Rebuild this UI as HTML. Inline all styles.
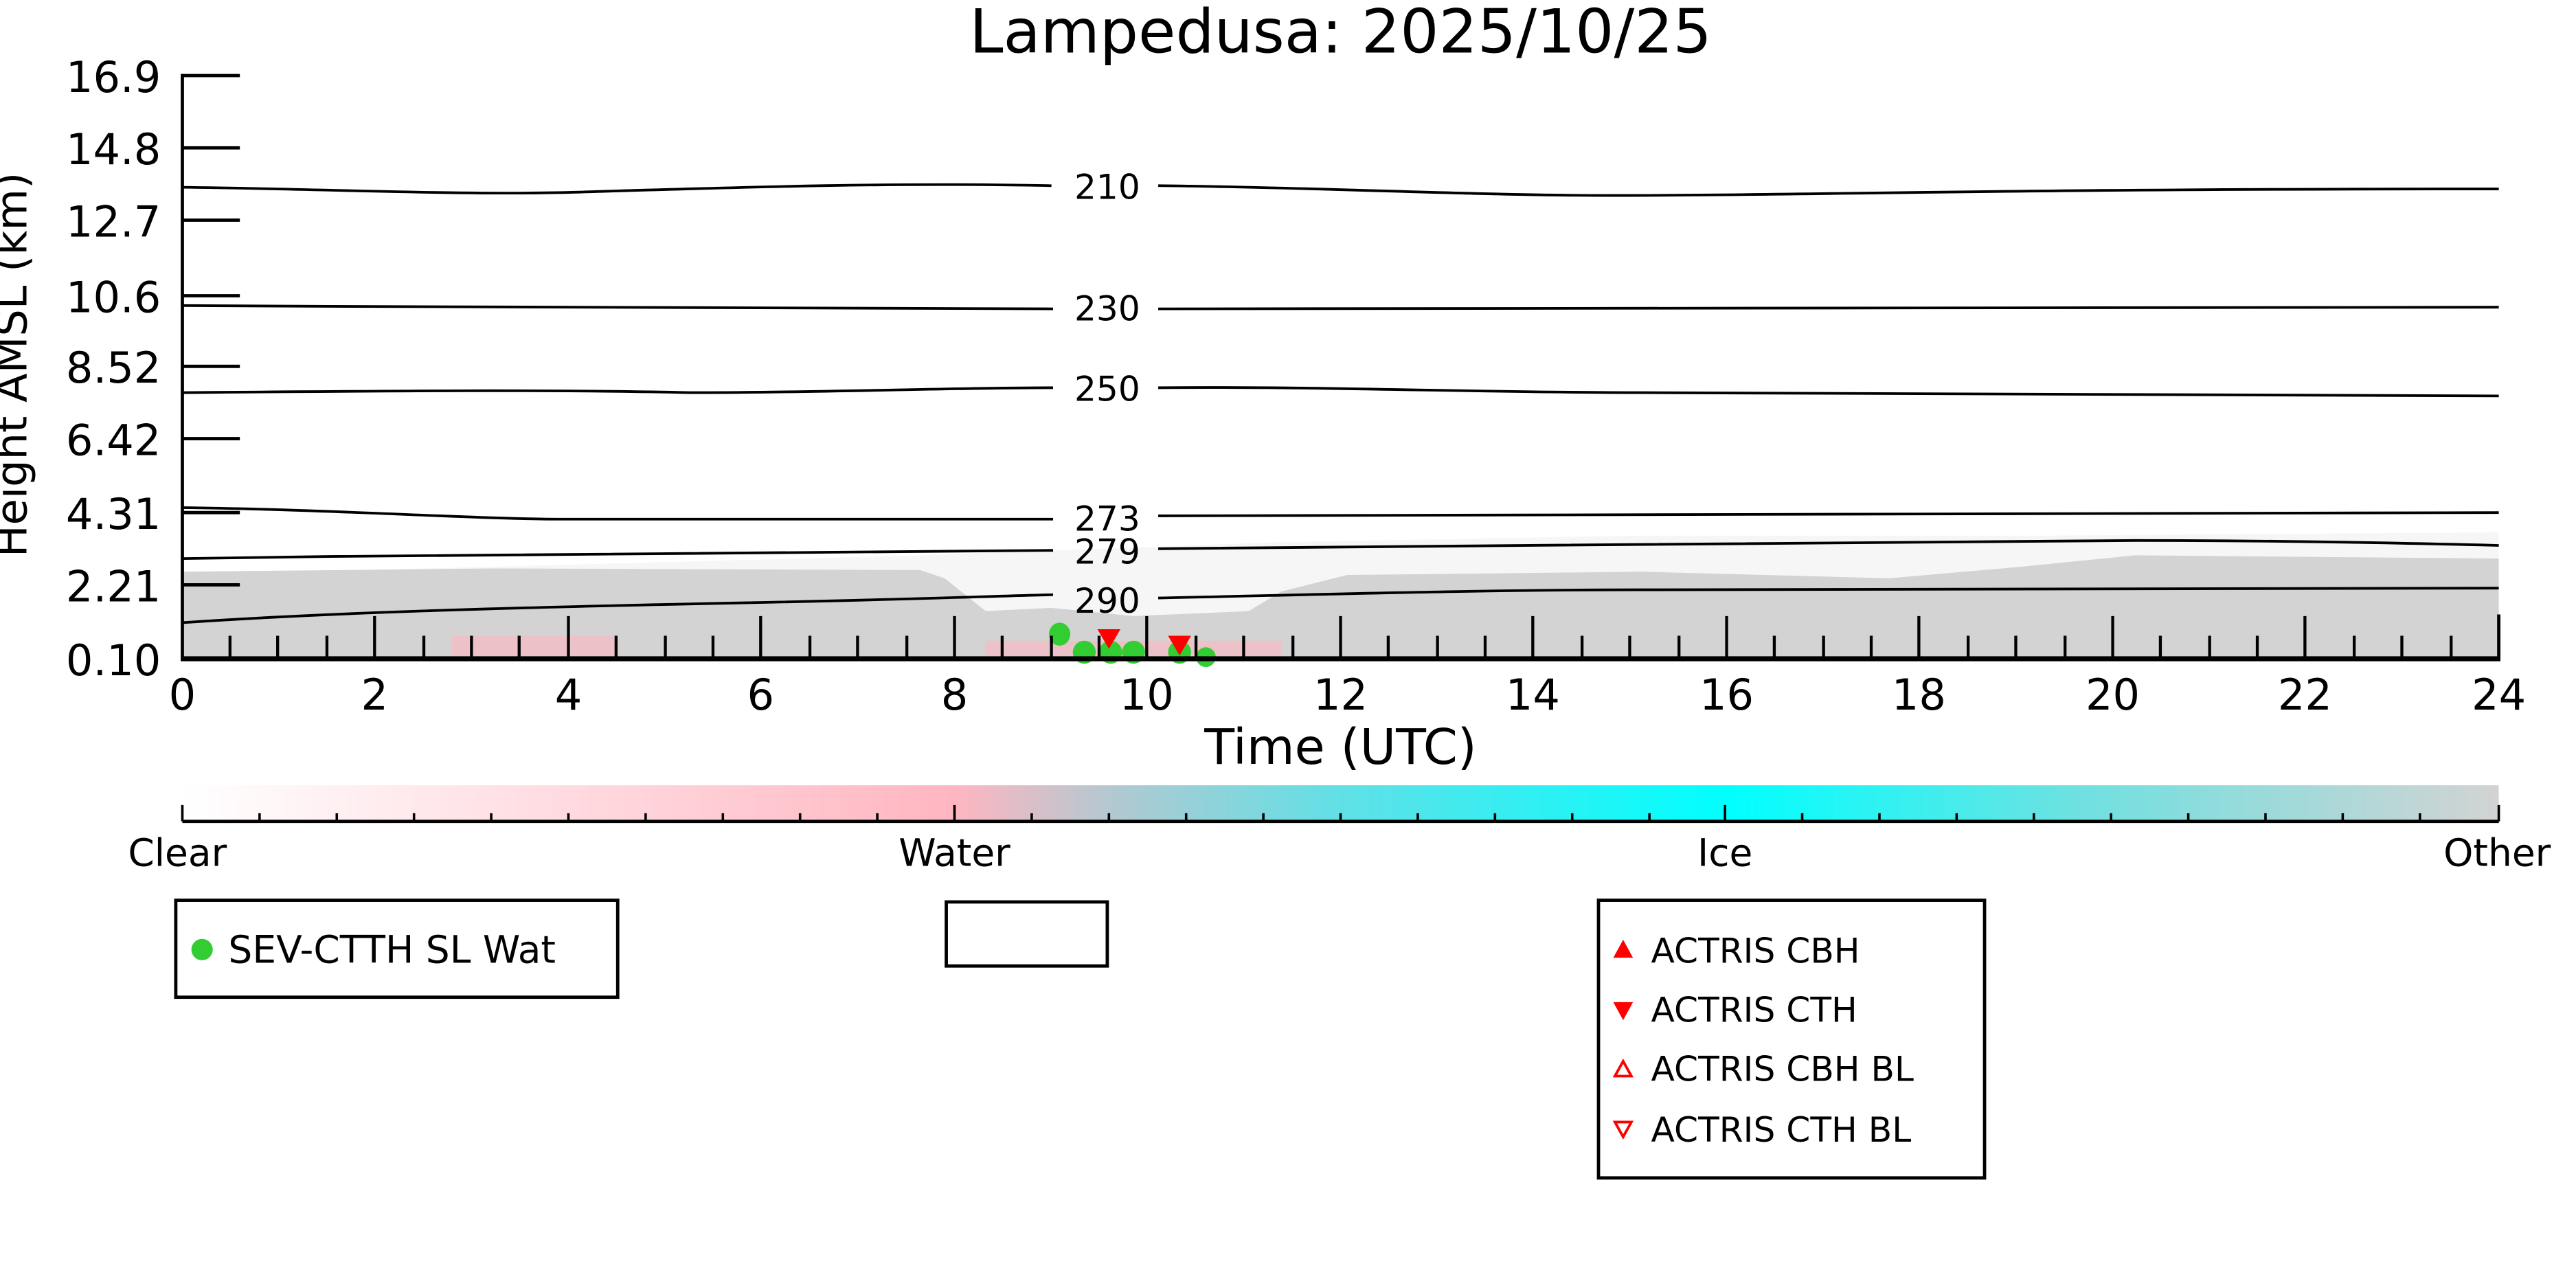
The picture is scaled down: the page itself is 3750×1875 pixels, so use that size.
<!DOCTYPE html>
<html><head><meta charset="utf-8"><style>html,body{margin:0;padding:0;background:#fff}svg{display:block}</style></head>
<body>
<svg width="3750" height="1875" viewBox="0 0 1568 784" xmlns="http://www.w3.org/2000/svg" font-family="DejaVu Sans, Liberation Sans, sans-serif">
<defs>
<linearGradient id="cb" x1="0" x2="1">
<stop offset="0" stop-color="#ffffff"/>
<stop offset="0.333" stop-color="#ffb6c1"/>
<stop offset="0.4" stop-color="#b4c8d0"/>
<stop offset="0.5" stop-color="#60e0e6"/>
<stop offset="0.667" stop-color="#00ffff"/>
<stop offset="0.82" stop-color="#70e0e0"/>
<stop offset="1" stop-color="#d3d3d3"/>
</linearGradient>
</defs>
<text x="816" y="32" font-size="37" text-anchor="middle">Lampedusa: 2025/10/25</text>
<path d="M111,350 L560,338 L780,330 L1000,326 L1250,326 L1521,324 L1521,401 L111,401 Z" fill="#d3d3d3" opacity="0.2"/>
<path d="M111,348 L300,346 L560,347 L575,352 L600,372 L640,370 L690,375 L760,372 L780,360 L820,350 L1000,348 L1150,352 L1230,345 L1300,338 L1521,340 L1521,401 L111,401 Z" fill="#d3d3d3"/>
<g fill="#ffb6c1" opacity="0.6">
<rect x="275" y="387" width="100" height="12"/>
<rect x="600" y="390" width="180" height="9"/>
</g>
<g fill="none" stroke="#000" stroke-width="1.6">
<path d="M111,114 C200,115 280,119 350,117 C450,114 540,111 640,113"/>
<path d="M705,113 C800,114 900,119 980,119 C1100,119 1200,115 1521,115"/>
<path d="M111,186 C300,187 500,188 641,188"/>
<path d="M705,188 C900,187 1200,186 1521,187"/>
<path d="M111,239 C230,238 330,237 420,239 C500,239 580,236 641,236"/>
<path d="M705,236 C800,235 900,239 1000,239 C1200,239 1400,240 1521,241"/>
<path d="M111,309 C200,310 290,316 340,316 L641,316"/>
<path d="M705,314 C900,313 1200,312 1521,312"/>
<path d="M111,340 C300,337 500,336 641,335"/>
<path d="M705,334 C900,332 1200,330 1300,329 C1400,329 1480,331 1521,332"/>
<path d="M111,379 C200,373 300,370 450,367 C550,365 600,363 641,362"/>
<path d="M705,364 C800,362 900,359 1000,359 C1200,360 1400,359 1521,358"/>
</g>
<g font-size="21" text-anchor="middle">
<text x="674" y="121">210</text><text x="674" y="195">230</text><text x="674" y="244">250</text>
<text x="674" y="323">273</text><text x="674" y="343">279</text><text x="674" y="373">290</text>
</g>
<g fill="#32cd32">
<ellipse cx="645" cy="386" rx="6.5" ry="7"/>
<circle cx="660" cy="397" r="7"/><circle cx="676" cy="397" r="7"/><circle cx="690" cy="397" r="7"/>
<circle cx="718" cy="397" r="7"/><circle cx="734" cy="400" r="6"/>
</g>
<g fill="#ff0000">
<path d="M668,383 L682,383 L675,395 Z"/><path d="M711,387 L725,387 L718,399 Z"/>
</g>
<g stroke="#000">
<line x1="111" y1="45" x2="111" y2="402" stroke-width="2"/>
<line x1="110" y1="401" x2="1522" y2="401" stroke-width="3"/>
<line x1="1521" y1="374" x2="1521" y2="401" stroke-width="2"/>
<g stroke-width="2">
<line x1="111" y1="46" x2="146" y2="46"/><line x1="111" y1="90" x2="146" y2="90"/><line x1="111" y1="134" x2="146" y2="134"/>
<line x1="111" y1="180" x2="146" y2="180"/><line x1="111" y1="223" x2="146" y2="223"/><line x1="111" y1="267" x2="146" y2="267"/>
<line x1="111" y1="312" x2="146" y2="312"/><line x1="111" y1="356" x2="146" y2="356"/>
</g>
<g stroke-width="1.8">
<path d="M140,401v-14M169,401v-14M199,401v-14M228,401v-26M258,401v-14M287,401v-14M316,401v-14M346,401v-26M375,401v-14M405,401v-14M434,401v-14M463,401v-26M493,401v-14M522,401v-14M552,401v-14M581,401v-26M610,401v-14M640,401v-14M669,401v-14M698,401v-26M728,401v-14M757,401v-14M787,401v-14M816,401v-26M845,401v-14M875,401v-14M904,401v-14M933,401v-26M963,401v-14M992,401v-14M1022,401v-14M1051,401v-26M1080,401v-14M1110,401v-14M1139,401v-14M1168,401v-26M1198,401v-14M1227,401v-14M1257,401v-14M1286,401v-26M1315,401v-14M1345,401v-14M1374,401v-14M1403,401v-26M1433,401v-14M1462,401v-14M1492,401v-14"/>
</g>
</g>
<g font-size="26" text-anchor="end">
<text x="98" y="56">16.9</text><text x="98" y="100">14.8</text><text x="98" y="144">12.7</text><text x="98" y="190">10.6</text>
<text x="98" y="233">8.52</text><text x="98" y="277">6.42</text><text x="98" y="322">4.31</text><text x="98" y="366">2.21</text><text x="98" y="411">0.10</text>
</g>
<g font-size="26" text-anchor="middle">
<text x="111" y="432">0</text><text x="228" y="432">2</text><text x="346" y="432">4</text><text x="463" y="432">6</text><text x="581" y="432">8</text>
<text x="698" y="432">10</text><text x="816" y="432">12</text><text x="933" y="432">14</text><text x="1051" y="432">16</text><text x="1168" y="432">18</text>
<text x="1286" y="432">20</text><text x="1403" y="432">22</text><text x="1521" y="432">24</text>
</g>
<text x="816" y="465" font-size="30" text-anchor="middle">Time (UTC)</text>
<text transform="translate(16,222) rotate(-90)" font-size="26" text-anchor="middle">Height AMSL (km)</text>
<rect x="111" y="478" width="1410" height="22" fill="url(#cb)"/>
<line x1="111" y1="500" x2="1521" y2="500" stroke="#000" stroke-width="2"/>
<g stroke="#000" stroke-width="1.5">
<path d="M111,500v-10M581,500v-10M1050,500v-10M1521,500v-10"/>
<path d="M158,500v-5M205,500v-5M252,500v-5M299,500v-5M346,500v-5M393,500v-5M440,500v-5M487,500v-5M534,500v-5M628,500v-5M675,500v-5M722,500v-5M769,500v-5M816,500v-5M863,500v-5M910,500v-5M957,500v-5M1004,500v-5M1097,500v-5M1144,500v-5M1191,500v-5M1238,500v-5M1285,500v-5M1332,500v-5M1379,500v-5M1426,500v-5M1473,500v-5"/>
</g>
<g font-size="23" text-anchor="middle">
<text x="108" y="527">Clear</text><text x="581" y="527">Water</text><text x="1050" y="527">Ice</text><text x="1520" y="527">Other</text>
</g>
<g fill="none" stroke="#000" stroke-width="2">
<rect x="107" y="548" width="269" height="59"/>
<rect x="576" y="549" width="98" height="39"/>
<rect x="973" y="548" width="235" height="169"/>
</g>
<circle cx="123" cy="578" r="6.5" fill="#32cd32"/>
<text x="139" y="586" font-size="23">SEV-CTTH SL Wat</text>
<path d="M982,583 L994,583 L988,572 Z" fill="#f00"/>
<path d="M982,610 L994,610 L988,621 Z" fill="#f00"/>
<path d="M983,655 L993,655 L988,646 Z" fill="none" stroke="#f00" stroke-width="1.6"/>
<path d="M983,683 L993,683 L988,692 Z" fill="none" stroke="#f00" stroke-width="1.6"/>
<g font-size="21">
<text x="1005" y="586">ACTRIS CBH</text><text x="1005" y="622">ACTRIS CTH</text>
<text x="1005" y="658">ACTRIS CBH BL</text><text x="1005" y="695">ACTRIS CTH BL</text>
</g>
</svg>
</body></html>
